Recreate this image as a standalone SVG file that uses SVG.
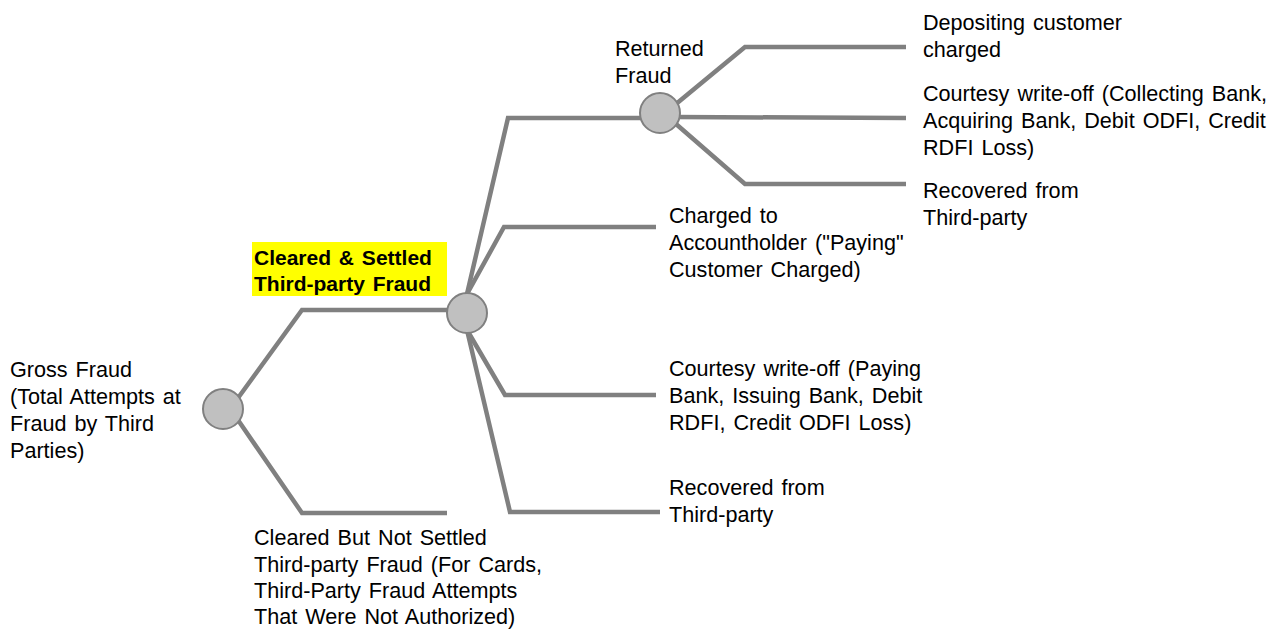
<svg xmlns="http://www.w3.org/2000/svg" width="1272" height="629" viewBox="0 0 1272 629">
<style>
.c{fill:none;stroke:#808080;stroke-width:4.5;stroke-linejoin:miter}
.n{fill:#c0c0c0;stroke:#808080;stroke-width:2}
text{font-family:"Liberation Sans",Arial,sans-serif;font-size:21.6px;word-spacing:2px;fill:#000}
.b{font-weight:bold;font-size:21px}
</style>
<rect width="1272" height="629" fill="#fff"/>
<g id="connectors">
<polyline class="c" points="238,398 302,310 450,310"/>
<polyline class="c" points="238,420 302,513 447,513"/>
<polyline class="c" points="467,294 508,118 645,118"/>
<polyline class="c" points="467,294 504,227 656,227"/>
<polyline class="c" points="467,330 505,395 656,395"/>
<polyline class="c" points="467,330 510,512 660,512"/>
<polyline class="c" points="676,104 745,47 906,47"/>
<polyline class="c" points="676,117 906,118"/>
<polyline class="c" points="676,124 745,184 906,184"/>
</g>
<g id="node-gross">
<circle class="n" cx="223" cy="409" r="20"/>
<text x="10"><tspan x="10" y="377">Gross Fraud</tspan><tspan x="10" y="404">(Total Attempts at</tspan><tspan x="10" y="431">Fraud by Third</tspan><tspan x="10" y="458">Parties)</tspan></text>
</g>
<g id="node-cleared-settled">
<circle class="n" cx="467" cy="313" r="20"/>
<rect x="252" y="242" width="195" height="54" fill="#ffff00"/>
<text class="b"><tspan x="254" y="265">Cleared &amp; Settled</tspan><tspan x="254" y="291">Third-party Fraud</tspan></text>
</g>
<g id="node-not-settled">
<text><tspan x="254" y="545">Cleared But Not Settled</tspan><tspan x="254" y="571.5">Third-party Fraud (For Cards,</tspan><tspan x="254" y="598">Third-Party Fraud Attempts</tspan><tspan x="254" y="623.5">That Were Not Authorized)</tspan></text>
</g>
<g id="node-returned">
<circle class="n" cx="660" cy="113" r="20"/>
<text><tspan x="615" y="56">Returned</tspan><tspan x="615" y="83">Fraud</tspan></text>
</g>
<g id="node-charged">
<text><tspan x="669" y="223">Charged to</tspan><tspan x="669" y="250">Accountholder ("Paying"</tspan><tspan x="669" y="277">Customer Charged)</tspan></text>
</g>
<g id="node-courtesy-paying">
<text><tspan x="669" y="376">Courtesy write-off (Paying</tspan><tspan x="669" y="403">Bank, Issuing Bank, Debit</tspan><tspan x="669" y="430">RDFI, Credit ODFI Loss)</tspan></text>
</g>
<g id="node-recovered-1">
<text><tspan x="669" y="495">Recovered from</tspan><tspan x="669" y="522">Third-party</tspan></text>
</g>
<g id="node-depositing">
<text><tspan x="923" y="30">Depositing customer</tspan><tspan x="923" y="57">charged</tspan></text>
</g>
<g id="node-courtesy-collecting">
<text><tspan x="923" y="101">Courtesy write-off (Collecting Bank,</tspan><tspan x="923" y="128">Acquiring Bank, Debit ODFI, Credit</tspan><tspan x="923" y="155">RDFI Loss)</tspan></text>
</g>
<g id="node-recovered-2">
<text><tspan x="923" y="198">Recovered from</tspan><tspan x="923" y="225">Third-party</tspan></text>
</g>
</svg>
